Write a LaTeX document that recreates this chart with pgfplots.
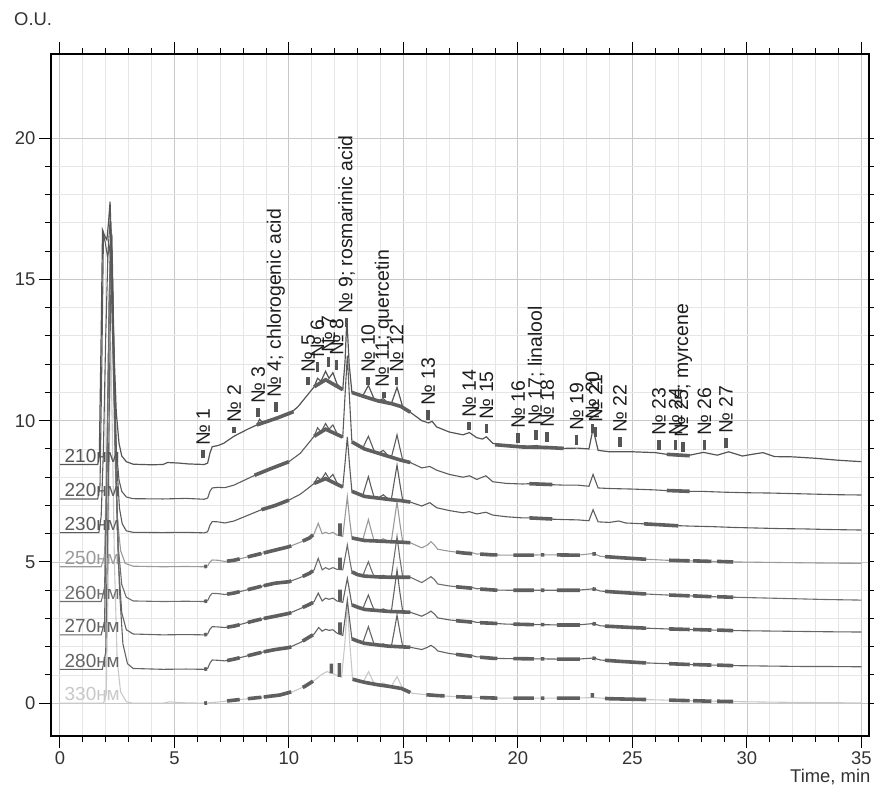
\documentclass[border=0pt]{standalone}
\usepackage{fontspec}
\setmainfont{Liberation Sans}
\usepackage{pgfplots}
\pgfplotsset{compat=1.18}
\usepackage{pgfplotstable}

\definecolor{cA}{HTML}{555555}
\definecolor{cB}{HTML}{5C5C5C}
\definecolor{cC}{HTML}{5C5C5C}
\definecolor{cD}{HTML}{9A9A9A}
\definecolor{cE}{HTML}{6E6E6E}
\definecolor{cF}{HTML}{646464}
\definecolor{cG}{HTML}{646464}
\definecolor{cH}{HTML}{C8C8C8}
\definecolor{thk}{HTML}{5F5F5F}
\definecolor{mk}{HTML}{555555}
\definecolor{majgrid}{HTML}{C8C8C8}
\definecolor{mingrid}{HTML}{E6E6E6}
\definecolor{txt}{HTML}{333333}
\definecolor{lab}{HTML}{1E1E1E}

\newcommand{\tfont}{\fontsize{18.5}{20}\selectfont}
\newcommand{\plab}{\fontsize{19.5}{21}\selectfont}
\newcommand{\trfont}{\fontsize{19}{21}\selectfont}
\protected\def\sc{;}

\pgfplotstableread[col sep=comma]{
x,y,lab
6.26,9.11,№ 1
7.61,9.94,№ 2
8.66,10.60,№ 3
9.43,10.82,№ 4\sc{} chlorogenic acid
10.84,11.71,№ 5
11.24,12.24,№ 6
11.72,12.41,№ 7
12.08,12.30,№ 8
12.52,13.77,№ 9\sc{} rosmarinic acid
13.46,11.71,№ 10
14.15,11.18,№ 11\sc{} quercetin
14.70,11.71,№ 12
16.08,10.53,№ 13
17.87,10.11,№ 14
18.63,10.05,№ 15
20.01,9.70,№ 16
20.79,9.82,№ 17\sc{} linalool
21.28,9.76,№ 18
22.56,9.64,№ 19
23.25,10.05,№ 20
23.39,9.94,№ 21
24.45,9.58,№ 22
26.16,9.47,№ 23
26.88,9.47,№ 24
27.22,9.41,№ 25\sc{} myrcene
28.14,9.47,№ 26
29.08,9.53,№ 27
}\peaks

\begin{document}
\begin{tikzpicture}
\path[use as bounding box] (-51bp,-53bp) rectangle (823bp,736bp);
\begin{axis}[
  at={(0,0)}, anchor=south west,
  scale only axis, width=818bp, height=682bp,
  xmin=-0.39, xmax=35.33, ymin=-1.16, ymax=22.98,
  xtick={0,5,...,35}, ytick={0,5,10,15,20},
  minor x tick num=4, minor y tick num=4,
  grid=both,
  major grid style={majgrid, line width=0.9bp},
  minor grid style={mingrid, line width=0.9bp},
  tick align=outside,
  major tick length=12bp, minor tick length=6bp,
  tick style={black, line width=1bp},
  axis line style={black, line width=1.1bp},
  ticklabel style={font=\tfont, text=txt},
  /pgf/number format/assume math mode=true,
  clip=false,
  unbounded coords=jump,
]

% ---------- traces ----------
\addplot[cH, line width=1.1bp] coordinates {(0,0) (1.9,0) (2.02,0.3) (2.1,4) (2.17,10) (2.22,12.8) (2.28,10) (2.38,5) (2.5,1.5) (2.65,0.4) (2.9,0.05) (3.2,0) (4.5,0) (4.8,0.05) (5.2,0.02) (6.3,0) (7.0,0.05) (7.5,0.1) (8.5,0.18) (9.6,0.29) (10.2,0.42) (10.7,0.6) (11.1,0.8) (11.4,1.0) (11.66,1.12) (11.9,1.05) (12.3,0.92) (12.45,2.2) (12.55,3.54) (12.65,2.2) (12.78,0.85) (13.1,0.78) (13.25,0.75) (13.37,0.95) (13.48,1.12) (13.6,0.9) (13.73,0.69) (13.9,0.65) (14.12,0.72) (14.35,0.6) (14.47,0.58) (14.6,0.78) (14.72,0.94) (14.84,0.74) (14.97,0.52) (15.4,0.35) (16.0,0.3) (16.2,0.33) (16.5,0.27) (17.5,0.22) (18.9,0.18) (20,0.18) (22.4,0.18) (23.3,0.2) (24.0,0.16) (26.0,0.12) (28.0,0.08) (30.0,0.05) (32.0,0.03) (35.0,0.01)};

\addplot[cD, line width=1.1bp] coordinates {(0,4.83) (1.8,4.83) (1.95,5.2) (2.05,9) (2.15,14.5) (2.22,15.8) (2.3,13) (2.4,9) (2.5,6.6) (2.65,5.4) (2.85,4.95) (3.2,4.85) (4.5,4.83) (5.5,4.84) (6.3,4.83) (6.45,4.86) (6.55,5.0) (6.65,5.07) (6.9,5.06) (7.2,5.02) (7.6,5.06) (8.2,5.18) (8.8,5.3) (9.4,5.42) (10.0,5.54) (10.5,5.7) (10.9,5.85) (11.1,6.0) (11.28,6.37) (11.45,6.0) (11.6,6.05) (11.75,6.0) (11.92,6.05) (12.1,5.95) (12.35,5.9) (12.45,6.6) (12.55,7.31) (12.65,6.5) (12.75,5.85) (13.0,5.8) (13.22,5.77) (13.35,6.15) (13.47,6.5) (13.59,6.12) (13.72,5.75) (13.9,5.74) (14.12,5.82) (14.35,5.72) (14.47,5.72) (14.6,6.45) (14.72,7.13) (14.84,6.4) (14.97,5.7) (15.3,5.68) (15.8,5.5) (16.05,5.6) (16.2,5.72) (16.35,5.6) (16.5,5.45) (17.0,5.38) (17.6,5.32) (17.9,5.35) (18.2,5.28) (18.6,5.3) (18.9,5.25) (19.5,5.24) (20.2,5.24) (21.0,5.25) (22.0,5.25) (22.6,5.24) (23.3,5.3) (23.6,5.2) (24.5,5.15) (25.5,5.1) (26.5,5.06) (27.5,5.04) (28.5,5.02) (29.5,5.0) (30.5,4.99) (31.5,4.98) (32.5,4.97) (33.5,4.96) (35.0,4.95)};

\addplot[cG, line width=1.1bp] coordinates {(0,1.2) (1.85,1.2) (2.0,1.8) (2.1,7) (2.2,13.5) (2.27,16.6) (2.35,13) (2.46,8) (2.6,4) (2.75,2.1) (2.95,1.4) (3.2,1.23) (4.5,1.2) (5.5,1.21) (6.3,1.2) (6.45,1.23) (6.55,1.42) (6.65,1.53) (6.9,1.52) (7.2,1.5) (7.6,1.56) (8.2,1.68) (8.8,1.8) (9.4,1.9) (10.0,1.97) (10.5,2.15) (10.9,2.35) (11.1,2.45) (11.3,2.68) (11.45,2.55) (11.6,2.62) (11.75,2.58) (11.92,2.6) (12.1,2.48) (12.35,2.4) (12.45,3.0) (12.55,3.65) (12.65,2.95) (12.75,2.28) (13.0,2.2) (13.22,2.13) (13.35,2.43) (13.47,2.71) (13.59,2.4) (13.72,2.09) (13.9,2.06) (14.12,2.1) (14.35,2.02) (14.47,2.0) (14.6,2.57) (14.72,3.12) (14.84,2.55) (14.97,2.0) (15.3,1.98) (15.8,1.9) (16.05,1.98) (16.2,2.05) (16.35,1.97) (16.5,1.85) (17.0,1.76) (17.6,1.7) (17.9,1.71) (18.2,1.64) (18.6,1.65) (18.9,1.59) (19.5,1.58) (20.2,1.57) (21.0,1.57) (22.0,1.56) (22.6,1.56) (23.3,1.6) (23.6,1.53) (24.5,1.48) (25.5,1.43) (26.5,1.4) (27.5,1.37) (28.5,1.35) (29.5,1.33) (30.5,1.32) (31.5,1.31) (32.5,1.3) (33.5,1.3) (35.0,1.29)};

\addplot[cF, line width=1.1bp] coordinates {(0,2.42) (1.8,2.42) (1.95,2.9) (2.05,8) (2.15,14) (2.22,17.0) (2.3,14.8) (2.42,9) (2.55,5) (2.7,3.2) (2.9,2.6) (3.2,2.45) (4.5,2.42) (5.5,2.43) (6.3,2.42) (6.45,2.45) (6.55,2.62) (6.65,2.71) (6.9,2.7) (7.2,2.68) (7.6,2.73) (8.2,2.86) (8.8,2.98) (9.4,3.08) (10.0,3.18) (10.5,3.35) (10.9,3.5) (11.1,3.6) (11.28,3.9) (11.45,3.62) (11.6,3.72) (11.75,3.68) (11.92,3.72) (12.1,3.62) (12.35,3.57) (12.45,4.0) (12.55,4.42) (12.65,3.95) (12.75,3.48) (13.0,3.4) (13.22,3.33) (13.35,3.6) (13.47,3.83) (13.59,3.56) (13.72,3.3) (13.9,3.28) (14.12,3.34) (14.35,3.25) (14.47,3.24) (14.6,4.0) (14.72,4.72) (14.84,3.95) (14.97,3.24) (15.3,3.22) (15.8,3.08) (16.05,3.18) (16.2,3.26) (16.35,3.16) (16.5,3.02) (17.0,2.95) (17.6,2.9) (17.9,2.92) (18.2,2.86) (18.6,2.88) (18.9,2.83) (19.5,2.8) (20.2,2.79) (21.0,2.78) (22.0,2.77) (22.6,2.77) (23.3,2.82) (23.6,2.74) (24.5,2.7) (25.5,2.66) (26.5,2.63) (27.5,2.61) (28.5,2.59) (29.5,2.57) (30.5,2.56) (31.5,2.55) (32.5,2.54) (33.5,2.53) (35.0,2.52)};

\addplot[cE, line width=1.1bp] coordinates {(0,3.6) (1.8,3.6) (1.95,4.1) (2.05,8) (2.15,14) (2.23,16.3) (2.31,13.5) (2.42,8.5) (2.55,5.5) (2.7,4.2) (2.9,3.75) (3.2,3.62) (4.5,3.6) (5.5,3.61) (6.3,3.6) (6.45,3.63) (6.55,3.8) (6.65,3.89) (6.9,3.88) (7.2,3.85) (7.6,3.9) (8.2,4.02) (8.8,4.14) (9.4,4.25) (10.0,4.3) (10.5,4.45) (10.9,4.6) (11.1,4.72) (11.28,5.13) (11.45,4.72) (11.6,4.8) (11.75,4.74) (11.92,4.8) (12.1,4.74) (12.35,4.72) (12.45,5.15) (12.55,5.6) (12.65,5.1) (12.75,4.65) (13.0,4.55) (13.22,4.5) (13.35,4.77) (13.47,5.01) (13.59,4.74) (13.72,4.48) (13.9,4.47) (14.12,4.53) (14.35,4.46) (14.47,4.46) (14.6,5.2) (14.72,5.9) (14.84,5.15) (14.97,4.46) (15.3,4.46) (15.8,4.27) (16.05,4.4) (16.2,4.48) (16.35,4.38) (16.5,4.22) (17.0,4.15) (17.6,4.1) (17.9,4.12) (18.2,4.05) (18.6,4.07) (18.9,4.01) (19.5,4.0) (20.2,4.0) (21.0,4.0) (22.0,4.0) (22.6,4.0) (23.3,4.05) (23.6,3.97) (24.5,3.92) (25.5,3.87) (26.5,3.83) (27.5,3.8) (28.5,3.77) (29.5,3.75) (30.5,3.73) (31.5,3.71) (32.5,3.69) (33.5,3.67) (35.0,3.65)};

\addplot[cC, line width=1.1bp] coordinates {(0,6.04) (1.7,6.04) (1.8,6.6) (1.9,9) (2.0,13) (2.1,16.0) (2.2,17.2) (2.28,15.5) (2.38,11.5) (2.48,8.5) (2.6,6.9) (2.72,6.35) (2.9,6.1) (3.2,6.05) (4.5,6.04) (5.5,6.05) (6.3,6.03) (6.45,6.07) (6.55,6.3) (6.65,6.43) (6.9,6.42) (7.2,6.38) (7.6,6.45) (8.2,6.65) (8.8,6.85) (9.4,7.0) (10.0,7.19) (10.5,7.4) (10.9,7.65) (11.1,7.78) (11.25,8.0) (11.4,7.9) (11.6,8.15) (11.75,7.95) (11.92,8.1) (12.1,7.8) (12.35,7.65) (12.45,8.5) (12.55,9.43) (12.65,8.4) (12.75,7.5) (13.0,7.42) (13.22,7.34) (13.35,7.7) (13.47,8.02) (13.59,7.65) (13.72,7.29) (13.9,7.26) (14.12,7.38) (14.35,7.22) (14.47,7.2) (14.6,7.85) (14.72,8.43) (14.84,7.8) (14.97,7.17) (15.3,7.12) (15.8,6.98) (16.15,7.1) (16.45,6.92) (17.0,6.82) (17.6,6.74) (17.88,6.78) (18.2,6.7) (18.6,6.76) (18.9,6.66) (19.5,6.6) (20.2,6.56) (20.8,6.56) (21.3,6.52) (22.0,6.5) (22.6,6.49) (23.1,6.46) (23.28,6.85) (23.5,6.42) (24.0,6.4) (24.4,6.45) (24.7,6.38) (25.5,6.35) (26.5,6.3) (27.5,6.27) (28.5,6.25) (29.5,6.22) (30.5,6.2) (31.5,6.18) (32.5,6.17) (33.5,6.15) (35.0,6.13)};

\addplot[cB, line width=1.1bp] coordinates {(0,7.23) (1.65,7.23) (1.75,7.7) (1.83,12) (1.9,16.6) (1.98,16.3) (2.08,15.8) (2.18,16.2) (2.27,14) (2.36,11) (2.46,9.0) (2.58,7.9) (2.7,7.5) (2.9,7.3) (3.2,7.24) (4.5,7.23) (5.5,7.25) (6.3,7.22) (6.45,7.26) (6.55,7.5) (6.65,7.62) (6.9,7.64) (7.2,7.63) (7.6,7.72) (8.2,7.95) (8.6,8.1) (9.2,8.3) (10.0,8.55) (10.5,8.85) (10.9,9.25) (11.1,9.45) (11.25,9.75) (11.4,9.6) (11.6,9.9) (11.75,9.7) (11.92,9.85) (12.1,9.55) (12.35,9.42) (12.45,10.9) (12.55,12.3) (12.65,10.7) (12.75,9.25) (13.0,9.15) (13.22,9.02) (13.35,9.25) (13.47,9.45) (13.59,9.2) (13.72,8.93) (13.9,8.85) (14.12,8.95) (14.35,8.75) (14.47,8.7) (14.6,9.1) (14.72,9.5) (14.84,9.05) (14.97,8.6) (15.3,8.52) (15.8,8.33) (16.15,8.38) (16.45,8.25) (17.0,8.1) (17.6,8.0) (17.88,8.05) (18.2,7.92) (18.6,8.05) (18.9,7.84) (19.5,7.78) (20.2,7.76) (20.8,7.78) (21.3,7.74) (22.0,7.72) (22.6,7.72) (23.1,7.68) (23.28,8.1) (23.5,7.62) (24.0,7.6) (25.0,7.58) (26.0,7.55) (27.0,7.5) (28.0,7.5) (29.0,7.47) (30.0,7.45) (31.0,7.44) (32.0,7.42) (33.0,7.4) (34.0,7.38) (35.0,7.37)};

\addplot[cA, line width=1.2bp] coordinates {(0,8.45) (1.65,8.45) (1.72,8.75) (1.8,13) (1.86,16.75) (1.95,16.55) (2.05,16.4) (2.12,17.0) (2.19,17.75) (2.27,15.5) (2.36,12.5) (2.46,10.3) (2.58,9.2) (2.7,8.75) (2.9,8.55) (3.2,8.46) (4.0,8.44) (4.5,8.45) (4.7,8.52) (5.2,8.5) (5.6,8.47) (6.3,8.45) (6.45,8.5) (6.55,8.85) (6.65,9.08) (6.9,9.12) (7.15,9.2) (7.6,9.45) (8.2,9.7) (8.6,9.85) (8.72,10.05) (8.85,9.92) (9.5,10.1) (10.0,10.22) (10.4,10.5) (10.8,10.9) (11.1,11.2) (11.25,11.5) (11.4,11.4) (11.6,11.75) (11.75,11.5) (11.92,11.7) (12.1,11.3) (12.35,11.1) (12.45,12.1) (12.53,13.6) (12.63,12.0) (12.75,11.0) (13.0,10.95) (13.22,10.87) (13.35,11.07) (13.47,11.25) (13.59,11.02) (13.72,10.77) (13.9,10.7) (14.12,10.78) (14.35,10.6) (14.47,10.6) (14.6,10.9) (14.72,11.18) (14.84,10.85) (14.97,10.48) (15.3,10.3) (15.8,10.0) (16.1,9.92) (16.25,9.98) (16.45,9.78) (17.0,9.6) (17.6,9.5) (17.88,9.58) (18.2,9.4) (18.45,9.35) (18.62,9.43) (18.9,9.2) (19.5,9.1) (20.2,9.07) (20.8,9.12) (21.3,9.05) (22.0,9.02) (22.6,9.03) (23.1,9.0) (23.28,9.72) (23.5,8.95) (24.0,8.9) (25.0,8.9) (26.0,8.87) (27.0,8.75) (27.5,8.78) (28.1,8.88) (28.7,8.78) (29.2,8.9) (29.8,8.75) (30.3,8.82) (30.7,8.87) (31.2,8.73) (32.0,8.72) (33.0,8.67) (34.0,8.6) (35.0,8.55)};

% ---------- thick baseline segments ----------
\addplot[thk, line width=3.6bp] coordinates {(8.6,9.85) (9.5,10.1) (10.2,10.32) (10.2,nan) (11.1,11.2) (11.6,11.45) (12.35,11.1) (12.35,nan) (12.75,11.0) (13.3,10.85) (13.9,10.7) (14.5,10.6) (14.9,10.5) (15.3,10.3) (15.3,nan) (19.0,9.15) (20.2,9.07) (21.3,9.05) (22.0,9.02) (22,nan) (26.5,8.81) (27.5,8.76)};
\addplot[thk, line width=3.6bp] coordinates {(8.5,8.07) (9.2,8.3) (10.0,8.55) (10,nan) (11.1,9.45) (11.6,9.7) (12.35,9.42) (12.35,nan) (12.75,9.25) (13.3,9.0) (13.9,8.85) (14.5,8.7) (14.9,8.6) (15.3,8.52) (15.3,nan) (20.5,7.77) (21.5,7.74) (21.5,nan) (26.5,7.53) (27.5,7.5)};
\addplot[thk, line width=3.6bp] coordinates {(8.8,6.85) (9.4,7.0) (10.0,7.19) (10,nan) (11.1,7.78) (11.6,7.95) (12.35,7.65) (12.35,nan) (12.75,7.5) (13.3,7.32) (13.9,7.26) (14.5,7.2) (14.9,7.17) (15.3,7.12) (15.3,nan) (20.5,6.56) (21.5,6.52) (21.5,nan) (25.5,6.35) (27,6.28)};
\addplot[thk, line width=3.6bp] coordinates {(6.3,4.83) (6.42,4.85) (6.42,nan) (7.3,5.03) (7.6,5.06) (7.85,5.11) (7.85,nan) (8.2,5.18) (8.8,5.3) (8.8,nan) (8.9,5.32) (9.4,5.42) (10.0,5.54) (10.1,5.57) (10.1,nan) (10.6,5.74) (10.9,5.85) (11.05,5.96) (11.05,nan) (12.23,5.92) (12.23,6.37) (12.23,nan) (12.75,5.85) (13.3,5.76) (13.9,5.74) (14.35,5.72) (14.92,5.7) (15.3,5.68) (15.3,nan) (17.3,5.35) (17.6,5.32) (18.0,5.29) (18.0,nan) (18.35,5.28) (18.9,5.25) (19.1,5.25) (19.1,nan) (19.8,5.24) (20.7,5.24) (20.7,nan) (21.0,5.25) (21.15,5.25) (21.15,nan) (21.7,5.25) (22.7,5.24) (22.7,nan) (23.25,5.29) (23.4,5.28) (23.4,nan) (23.8,5.19) (24.5,5.15) (25.5,5.1) (25.6,5.1) (25.6,nan) (26.6,5.06) (27.5,5.04) (27.5,nan) (27.65,5.04) (28.45,5.02) (28.45,nan) (28.7,5.02) (29.4,5.0)};
\addplot[thk, line width=3.6bp] coordinates {(6.3,3.6) (6.42,3.62) (6.42,nan) (7.3,3.86) (7.6,3.9) (7.85,3.95) (7.85,nan) (8.2,4.02) (8.8,4.14) (8.8,nan) (8.9,4.16) (9.4,4.25) (10.0,4.3) (10.1,4.33) (10.1,nan) (10.6,4.49) (10.9,4.6) (11.05,4.69) (11.05,nan) (12.23,4.73) (12.23,5.15) (12.23,nan) (12.75,4.65) (13.0,4.55) (13.3,4.5) (13.9,4.47) (14.35,4.46) (15.3,4.46) (15.3,nan) (17.3,4.12) (17.6,4.1) (18.0,4.07) (18.0,nan) (18.35,4.04) (18.9,4.01) (19.1,4.0) (19.1,nan) (19.8,4.0) (20.7,4.0) (20.7,nan) (21.0,4.0) (21.15,4.0) (21.15,nan) (21.7,4.0) (22.7,4.0) (22.7,nan) (23.25,4.05) (23.4,4.03) (23.4,nan) (23.8,3.96) (24.5,3.92) (25.5,3.87) (25.6,3.87) (25.6,nan) (26.6,3.83) (27.5,3.8) (27.5,nan) (27.65,3.8) (28.45,3.77) (28.45,nan) (28.7,3.77) (29.4,3.75)};
\addplot[thk, line width=3.6bp] coordinates {(6.3,2.42) (6.42,2.44) (6.42,nan) (7.3,2.69) (7.6,2.73) (7.85,2.78) (7.85,nan) (8.2,2.86) (8.8,2.98) (8.8,nan) (8.9,3.0) (9.4,3.08) (10.0,3.18) (10.1,3.21) (10.1,nan) (10.6,3.39) (10.9,3.5) (11.05,3.57) (11.05,nan) (12.23,3.6) (12.23,4.02) (12.23,nan) (12.75,3.48) (13.0,3.4) (13.3,3.32) (13.9,3.28) (14.35,3.25) (15.3,3.22) (15.3,nan) (17.3,2.92) (17.6,2.9) (18.0,2.87) (18.0,nan) (18.35,2.85) (18.9,2.83) (19.1,2.82) (19.1,nan) (19.8,2.8) (20.7,2.78) (20.7,nan) (21.0,2.78) (21.15,2.78) (21.15,nan) (21.7,2.77) (22.7,2.77) (22.7,nan) (23.25,2.82) (23.4,2.8) (23.4,nan) (23.8,2.73) (24.5,2.7) (25.5,2.66) (25.6,2.66) (25.6,nan) (26.6,2.63) (27.5,2.61) (27.5,nan) (27.65,2.61) (28.45,2.59) (28.45,nan) (28.7,2.59) (29.4,2.57)};
\addplot[thk, line width=3.6bp] coordinates {(6.3,1.2) (6.42,1.22) (6.42,nan) (7.3,1.51) (7.6,1.56) (7.85,1.61) (7.85,nan) (8.2,1.68) (8.8,1.8) (8.8,nan) (8.9,1.82) (9.4,1.9) (10.0,1.97) (10.1,2.0) (10.1,nan) (10.6,2.2) (10.9,2.35) (11.05,2.42) (11.05,nan) (12.23,2.44) (12.23,2.86) (12.23,nan) (12.75,2.28) (13.0,2.2) (13.3,2.12) (13.9,2.06) (14.35,2.02) (15.3,1.98) (15.3,nan) (17.3,1.73) (17.6,1.7) (18.0,1.66) (18.0,nan) (18.35,1.63) (18.9,1.59) (19.1,1.59) (19.1,nan) (19.8,1.58) (20.7,1.57) (20.7,nan) (21.0,1.57) (21.15,1.57) (21.15,nan) (21.7,1.56) (22.7,1.56) (22.7,nan) (23.25,1.6) (23.4,1.58) (23.4,nan) (23.8,1.52) (24.5,1.48) (25.5,1.43) (25.6,1.43) (25.6,nan) (26.6,1.4) (27.5,1.37) (27.5,nan) (27.65,1.37) (28.45,1.35) (28.45,nan) (28.7,1.35) (29.4,1.33)};
\addplot[thk, line width=3.6bp] coordinates {(6.3,0) (6.42,0.01) (6.42,nan) (7.3,0.08) (7.85,0.13) (7.85,nan) (8.2,0.16) (8.8,0.21) (8.8,nan) (8.9,0.22) (9.6,0.29) (10.1,0.4) (10.1,nan) (10.6,0.56) (10.7,0.6) (11.05,0.78) (11.05,nan) (11.85,1.06) (11.85,1.4) (11.85,nan) (12.2,0.93) (12.2,1.42) (12.2,nan) (12.78,0.85) (13.1,0.78) (13.3,0.74) (13.9,0.65) (14.35,0.6) (14.92,0.52) (15.3,0.38) (15.3,nan) (16.0,0.3) (16.5,0.27) (16.8,0.26) (16.8,nan) (17.3,0.23) (18.0,0.21) (18.0,nan) (18.35,0.2) (19.1,0.18) (19.1,nan) (19.8,0.18) (20.7,0.18) (20.7,nan) (21.0,0.18) (21.15,0.18) (21.15,nan) (21.7,0.18) (22.7,0.18) (22.7,nan) (23.25,0.2) (23.25,0.36) (23.25,nan) (23.8,0.17) (24.0,0.16) (25.6,0.13) (25.6,nan) (26.6,0.11) (27.5,0.09) (27.5,nan) (27.65,0.09) (28.45,0.07) (28.45,nan) (28.7,0.07) (29.4,0.06)};

% ---------- peak markers ----------
\addplot[mk, line width=3.6bp] coordinates {(6.26,8.67) (6.26,8.96) (6.26,nan) (7.61,9.55) (7.61,9.79) (7.61,nan) (8.66,10.14) (8.66,10.45) (8.66,nan) (9.43,10.32) (9.43,10.67) (9.43,nan) (10.84,11.26) (10.84,11.56) (10.84,nan) (11.24,11.73) (11.24,12.09) (11.24,nan) (11.72,11.9) (11.72,12.26) (11.72,nan) (12.08,11.8) (12.08,12.15) (12.08,nan) (12.52,13.33) (12.52,13.62) (12.52,nan) (13.46,11.26) (13.46,11.56) (13.46,nan) (14.15,10.79) (14.15,11.03) (14.15,nan) (14.7,11.26) (14.7,11.56) (14.7,nan) (16.08,10.02) (16.08,10.38) (16.08,nan) (17.87,9.67) (17.87,9.96) (17.87,nan) (18.63,9.55) (18.63,9.9) (18.63,nan) (20.01,9.2) (20.01,9.55) (20.01,nan) (20.79,9.32) (20.79,9.67) (20.79,nan) (21.28,9.26) (21.28,9.61) (21.28,nan) (22.56,9.14) (22.56,9.49) (22.56,nan) (23.25,9.55) (23.25,9.9) (23.25,nan) (23.39,9.43) (23.39,9.79) (23.39,nan) (24.45,9.08) (24.45,9.43) (24.45,nan) (26.16,8.96) (26.16,9.32) (26.16,nan) (26.88,8.96) (26.88,9.32) (26.88,nan) (27.22,8.9) (27.22,9.26) (27.22,nan) (28.14,8.96) (28.14,9.32) (28.14,nan) (29.08,9.02) (29.08,9.38)};

% ---------- peak labels ----------
\addplot[draw=none, point meta=explicit symbolic,
  nodes near coords, nodes near coords align={anchor=west},
  every node near coord/.append style={rotate=90, anchor=west, inner sep=0pt, font=\plab, text=lab}]
  table[x=x, y=y, meta=lab] {\peaks};

% ---------- trace labels ----------
\node[anchor=base west, text=cA, font=\trfont, inner sep=0pt] at (axis cs:0.2,8.53) {210нм};
\node[anchor=base west, text=cB, font=\trfont, inner sep=0pt] at (axis cs:0.2,7.31) {220нм};
\node[anchor=base west, text=cC, font=\trfont, inner sep=0pt] at (axis cs:0.2,6.12) {230нм};
\node[anchor=base west, text=cD, font=\trfont, inner sep=0pt] at (axis cs:0.2,4.91) {250нм};
\node[anchor=base west, text=cE, font=\trfont, inner sep=0pt] at (axis cs:0.2,3.68) {260нм};
\node[anchor=base west, text=cF, font=\trfont, inner sep=0pt] at (axis cs:0.2,2.50) {270нм};
\node[anchor=base west, text=cG, font=\trfont, inner sep=0pt] at (axis cs:0.2,1.28) {280нм};
\node[anchor=base west, text=cH, font=\trfont, inner sep=0pt] at (axis cs:0.2,0.10) {330нм};

% ---------- axis titles ----------
\node[anchor=base west, text=txt, font=\tfont, inner sep=0pt] at (rel axis cs:-0.0452,1.0425) {O.U.};
\node[anchor=base west, text=txt, font=\tfont, inner sep=0pt] at (rel axis cs:0.9034,-0.0689) {Time, min};
\end{axis}
\end{tikzpicture}
\end{document}
